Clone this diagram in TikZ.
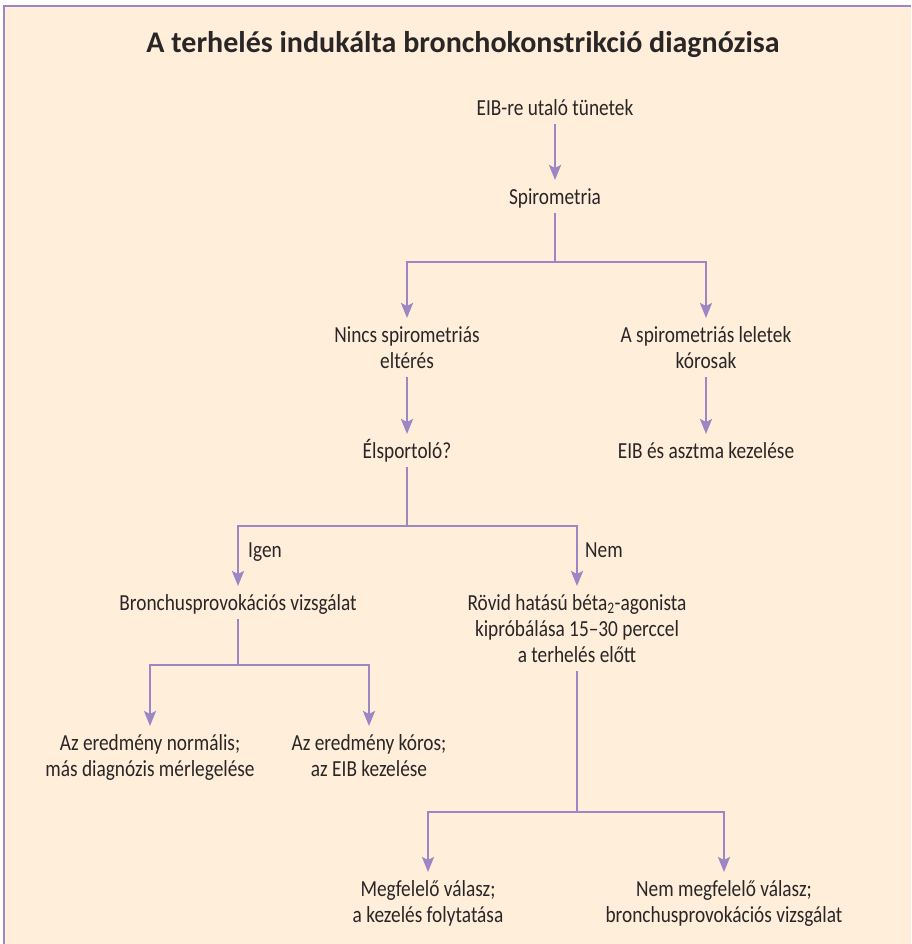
\documentclass[tikz,border=0pt]{standalone}
\usepackage{fontspec}
\setmainfont{Carlito}[FakeStretch=0.84]
\newfontfamily\titlefont{Carlito}
\usetikzlibrary{arrows.meta, positioning, calc}
\definecolor{cream}{HTML}{FEEEDA}
\definecolor{lilac}{HTML}{9C86C3}
\definecolor{inkgray}{HTML}{2A2627}
\newcommand{\tallrule}{\rule{0pt}{22pt}}

\begin{document}
\begin{tikzpicture}[
    x=1pt, y=-1pt,
    box/.style={align=center, anchor=north, inner sep=2pt, text=inkgray,
        font=\fontsize{23}{26}\selectfont,
        execute at end node={\rule[-7pt]{0pt}{7pt}}},
    branch/.style={anchor=base west, inner sep=0pt, text=inkgray, font=\fontsize{23}{26}\selectfont},
    conn/.style={draw=lilac, line width=2.4pt},
    arr/.style={conn, -{Stealth[length=15pt, width=12pt, inset=3pt]}}
]
\useasboundingbox (0,0) rectangle (911,944);
\fill[cream] (3,5) rectangle (911,944);
\draw[lilac, line width=2pt] (4,944) -- (4,6) -- (911,6);

\node[anchor=base, inner sep=0pt, text=inkgray, font=\titlefont\bfseries\fontsize{30}{32}\selectfont] (title) at (463,53) {A terhelés indukálta bronchokonstrikció diagnózisa};

\node[box] (symptoms) at (555,91) {\tallrule EIB-re utaló tünetek};
\node[box] (spiro) at (555,180) {\tallrule Spirometria};
\node[box] (nospiro) at (407,318) {\tallrule Nincs spirometriás\\eltérés};
\node[box] (abnormal) at (706,318) {\tallrule A spirometriás leletek\\kórosak};
\node[box] (elite) at (407,434) {\tallrule Élsportoló?};
\node[box] (treat) at (706,434) {\tallrule EIB és asztma kezelése};
\node[box] (provoc) at (238,586) {\tallrule Bronchusprovokációs vizsgálat};
\node[box] (beta) at (577,586) {\tallrule Rövid hatású béta\textsubscript{2}-agonista\\kipróbálása 15--30 perccel\\a terhelés előtt};
\node[box] (normal) at (150,726) {\tallrule Az eredmény normális;\\más diagnózis mérlegelése};
\node[box] (positive) at (369,726) {\tallrule Az eredmény kóros;\\az EIB kezelése};
\node[box] (good) at (428,872) {\tallrule Megfelelő válasz;\\a kezelés folytatása};
\node[box] (poor) at (724,872) {\tallrule Nem megfelelő válasz;\\bronchusprovokációs vizsgálat};

\node[branch] (yes) at (248,557) {Igen};
\node[branch] (no) at (585,557) {Nem};

\coordinate (split1) at (555,262);
\coordinate (split2) at (407,526);
\coordinate (split3) at (238,665);
\coordinate (split4) at (577,812);

\draw[arr] (symptoms) -- (spiro);
\draw[conn] (spiro.south) -- (split1);
\draw[arr] (split1) -| (nospiro.north);
\draw[arr] (split1) -| (abnormal.north);
\draw[arr] (nospiro) -- (elite);
\draw[arr] (abnormal) -- (treat);
\draw[conn] (elite.south) -- (split2);
\draw[arr] (split2) -| (provoc.north);
\draw[arr] (split2) -| (beta.north);
\draw[conn] (provoc.south) -- (split3);
\draw[arr] (split3) -| (normal.north);
\draw[arr] (split3) -| (positive.north);
\draw[conn] (beta.south) -- (split4);
\draw[arr] (split4) -| (good.north);
\draw[arr] (split4) -| (poor.north);

\end{tikzpicture}
\end{document}
